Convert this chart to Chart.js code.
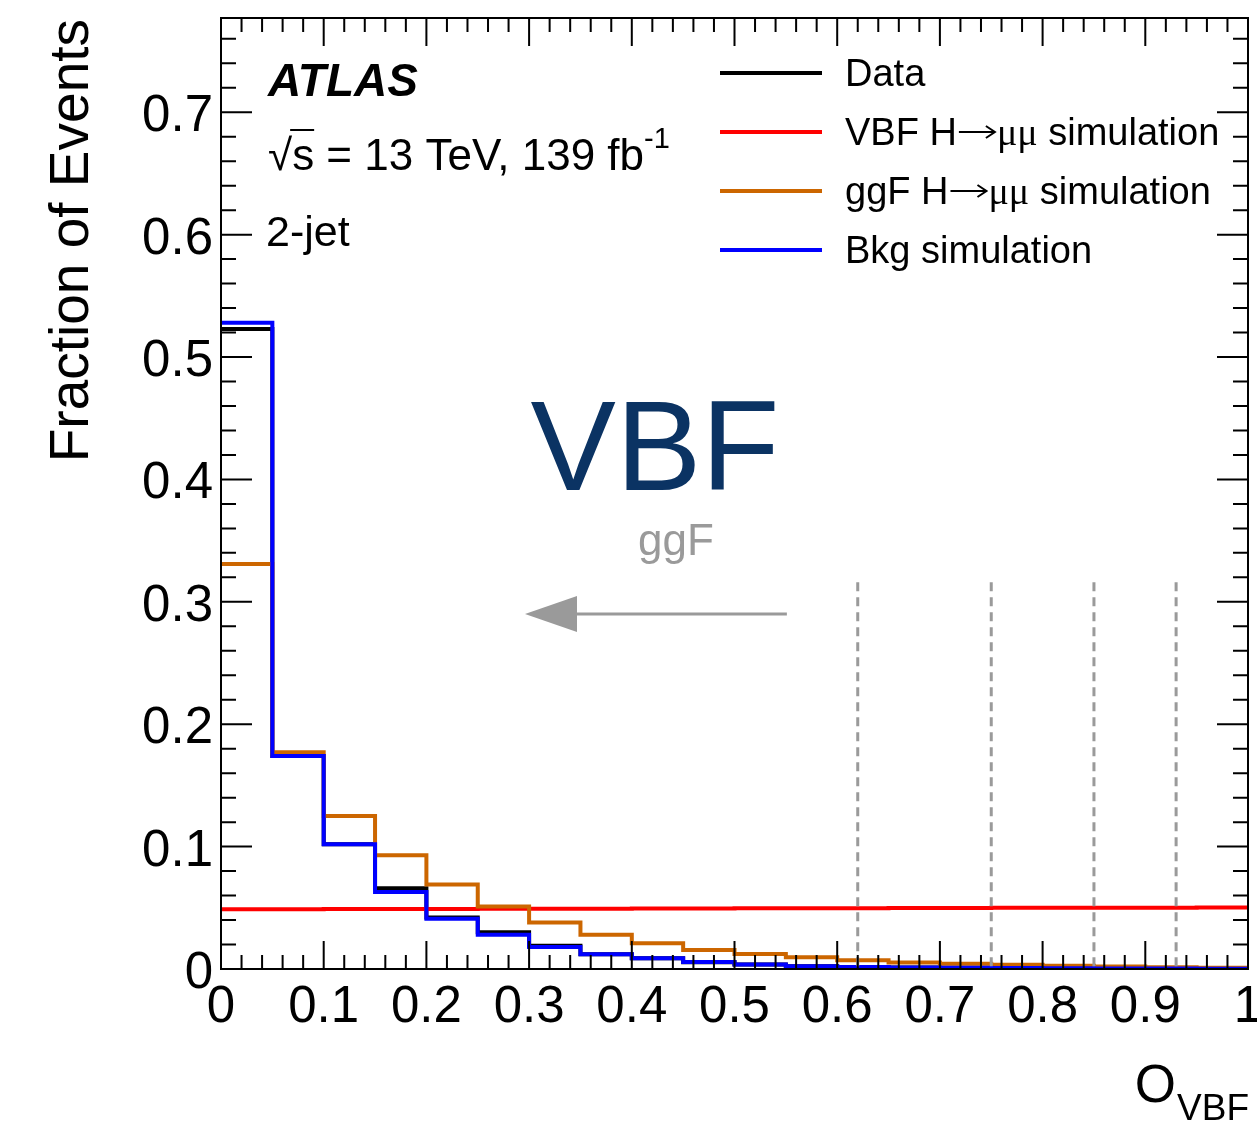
<!DOCTYPE html>
<html>
<head>
<meta charset="utf-8">
<script src="https://cdn.jsdelivr.net/npm/chart.js@4.4.1/dist/chart.umd.min.js"></script>
<style>
  html, body { margin: 0; padding: 0; background: #fff; }
  canvas { display: block; }
</style>
</head>
<body>
<canvas id="ovbf" width="1257" height="1127"></canvas>
<script>
// bin edges of O_VBF (20 bins of 0.05)
const binEdges = [0, 0.05, 0.1, 0.15, 0.2, 0.25, 0.3, 0.35, 0.4, 0.45, 0.5,
  0.55, 0.6, 0.65, 0.7, 0.75, 0.8, 0.85, 0.9, 0.95, 1.0];

// fraction of events per bin
const dataFrac = [0.523, 0.174, 0.102, 0.066, 0.042, 0.030, 0.019, 0.012, 0.0088, 0.0056,
  0.0036, 0.0023, 0.0017, 0.0012, 0.0010, 0.0008, 0.0006, 0.0005, 0.0004, 0.0003];
const vbfSim = [0.0488, 0.0489, 0.0490, 0.0490, 0.0491, 0.0492, 0.0493, 0.0493, 0.0494, 0.0495,
  0.0496, 0.0497, 0.0497, 0.0498, 0.0499, 0.0500, 0.0500, 0.0501, 0.0501, 0.0502];
const ggfSim = [0.331, 0.177, 0.125, 0.093, 0.069, 0.051, 0.038, 0.028, 0.021, 0.0155,
  0.0123, 0.0095, 0.0072, 0.0054, 0.0043, 0.0034, 0.0026, 0.0020, 0.0015, 0.0010];
const bkgSim = [0.528, 0.174, 0.102, 0.063, 0.041, 0.028, 0.018, 0.012, 0.0087, 0.0057,
  0.0037, 0.0023, 0.0017, 0.0012, 0.0010, 0.0008, 0.0006, 0.0005, 0.0004, 0.0003];

// category boundaries (dashed lines)
const categoryCuts = [0.62, 0.75, 0.85, 0.93];

const xTicks = [0, 0.1, 0.2, 0.3, 0.4, 0.5, 0.6, 0.7, 0.8, 0.9, 1];
const xTickLabels = ['0', '0.1', '0.2', '0.3', '0.4', '0.5', '0.6', '0.7', '0.8', '0.9', '1'];
const yTicks = [0, 0.1, 0.2, 0.3, 0.4, 0.5, 0.6, 0.7];
const yTickLabels = ['0', '0.1', '0.2', '0.3', '0.4', '0.5', '0.6', '0.7'];

const FONT = '"Liberation Sans", Arial, Helvetica, sans-serif';
const GREEK = '"Liberation Serif", "Times New Roman", serif';

// histogram -> points at left bin edges, plus closing point at the last edge
function toSteps(vals) {
  const pts = vals.map((v, i) => ({ x: binEdges[i], y: v }));
  pts.push({ x: binEdges[vals.length], y: vals[vals.length - 1] });
  return pts;
}

function text(ctx, s, x, y, font, color, align, baseline) {
  ctx.font = font;
  ctx.fillStyle = color || '#000';
  ctx.textAlign = align || 'left';
  ctx.textBaseline = baseline || 'alphabetic';
  ctx.fillText(s, x, y);
  return ctx.measureText(s).width;
}

// thin ROOT-style "→" drawn as a line with a small head
function arrowGlyph(ctx, x, y, w) {
  ctx.save();
  ctx.strokeStyle = '#000';
  ctx.lineWidth = 2;
  ctx.beginPath();
  ctx.moveTo(x + 2, y); ctx.lineTo(x + w - 3, y);
  ctx.moveTo(x + w - 11, y - 6); ctx.lineTo(x + w - 2, y); ctx.lineTo(x + w - 11, y + 6);
  ctx.stroke();
  ctx.restore();
  return w;
}

function legendText(ctx, parts, x, y) {
  let cx = x;
  parts.forEach(p => {
    if (p[0] === '\u2192') cx += arrowGlyph(ctx, cx, y - 13, 40);
    else cx += text(ctx, p[0], cx, y, p[1], '#000');
  });
}

const atlasDecor = {
  id: 'atlasDecor',
  afterDatasetsDraw(chart) {
    const ctx = chart.ctx;
    const xs = chart.scales.x, ys = chart.scales.y;
    const a = chart.chartArea;
    ctx.save();

    // dashed category lines
    ctx.strokeStyle = '#9a9a9a';
    ctx.lineWidth = 3;
    ctx.setLineDash([9, 6]);
    categoryCuts.forEach(c => {
      const px = xs.getPixelForValue(c);
      ctx.beginPath();
      ctx.moveTo(px, ys.getPixelForValue(0.316));
      ctx.lineTo(px, a.bottom);
      ctx.stroke();
    });
    ctx.setLineDash([]);

    // arrow pointing towards the ggF-like region
    const ay = ys.getPixelForValue(0.29);
    const ax0 = xs.getPixelForValue(0.551), ax1 = xs.getPixelForValue(0.296);
    ctx.strokeStyle = '#9a9a9a';
    ctx.fillStyle = '#9a9a9a';
    ctx.lineWidth = 3;
    ctx.beginPath();
    ctx.moveTo(ax0, ay);
    ctx.lineTo(ax1 + 50, ay);
    ctx.stroke();
    ctx.beginPath();
    ctx.moveTo(ax1, ay);
    ctx.lineTo(ax1 + 52, ay - 18);
    ctx.lineTo(ax1 + 52, ay + 18);
    ctx.closePath();
    ctx.fill();

    text(ctx, 'VBF', 655, 490, '128px ' + FONT, '#0b3363', 'center');
    text(ctx, 'ggF', 676, 555, '44px ' + FONT, '#9a9a9a', 'center');

    // frame
    ctx.strokeStyle = '#000';
    ctx.lineWidth = 2;
    ctx.strokeRect(a.left, a.top, a.right - a.left, a.bottom - a.top);

    // ticks, pointing inwards on all four sides
    for (let i = 0; i <= 50; i++) {
      const px = xs.getPixelForValue(i / 50);
      const len = i % 5 === 0 ? 28 : 14;
      ctx.beginPath();
      ctx.moveTo(px, a.bottom); ctx.lineTo(px, a.bottom - len);
      ctx.moveTo(px, a.top); ctx.lineTo(px, a.top + len);
      ctx.stroke();
    }
    for (let i = 0; i * 0.02 <= ys.max; i++) {
      const py = ys.getPixelForValue(i * 0.02);
      const len = i % 5 === 0 ? 31 : 15;
      ctx.beginPath();
      ctx.moveTo(a.left, py); ctx.lineTo(a.left + len, py);
      ctx.moveTo(a.right, py); ctx.lineTo(a.right - len, py);
      ctx.stroke();
    }

    // tick labels
    yTicks.forEach((v, i) => {
      text(ctx, yTickLabels[i], 213, ys.getPixelForValue(v) + 5, '51px ' + FONT, '#000', 'right', 'middle');
    });
    xTicks.forEach((v, i) => {
      text(ctx, xTickLabels[i], xs.getPixelForValue(v), 1022, '51px ' + FONT, '#000', 'center');
    });

    // axis titles
    ctx.save();
    ctx.translate(88, 19);
    ctx.rotate(-Math.PI / 2);
    text(ctx, 'Fraction of Events', 0, 0, '55px ' + FONT, '#000', 'right');
    ctx.restore();
    ctx.font = '37px ' + FONT;
    const wSub = ctx.measureText('VBF').width;
    text(ctx, 'VBF', 1249 - wSub, 1120, '37px ' + FONT, '#000');
    text(ctx, 'O', 1249 - wSub - 1, 1102, '53px ' + FONT, '#000', 'right');

    // ATLAS label
    text(ctx, 'ATLAS', 268, 96, 'bold italic 46px ' + FONT, '#000');
    const w1 = text(ctx, '\u221A', 268, 170, '44px ' + FONT, '#000');
    const w2 = text(ctx, 's = 13 TeV, 139 fb', 268 + w1, 170, '44px ' + FONT, '#000');
    ctx.lineWidth = 2;
    ctx.beginPath();
    ctx.moveTo(268 + w1 - 2, 130); ctx.lineTo(268 + w1 + 22, 130);
    ctx.stroke();
    text(ctx, '-1', 268 + w1 + w2, 148, '29px ' + FONT, '#000');
    text(ctx, '2-jet', 266, 246, '43px ' + FONT, '#000');

    // legend
    const rows = [
      ['#000000', 73, [['Data', '38px ' + FONT]]],
      ['#ff0000', 132, [['VBF H', '38px ' + FONT], ['\u2192', ''], ['\u03BC\u03BC', '38px ' + GREEK], [' simulation', '38px ' + FONT]]],
      ['#cc6600', 191, [['ggF H', '38px ' + FONT], ['\u2192', ''], ['\u03BC\u03BC', '38px ' + GREEK], [' simulation', '38px ' + FONT]]],
      ['#0000ff', 250, [['Bkg simulation', '38px ' + FONT]]]
    ];
    rows.forEach(r => {
      ctx.strokeStyle = r[0];
      ctx.lineWidth = 4;
      ctx.beginPath();
      ctx.moveTo(720, r[1]); ctx.lineTo(822, r[1]);
      ctx.stroke();
      legendText(ctx, r[2], 845, r[1] + 13);
    });

    ctx.restore();
  }
};

const ctx = document.getElementById('ovbf');
const chart = new Chart(ctx, {
  type: 'line',
  data: {
    datasets: [
      { label: 'Data', data: toSteps(dataFrac), borderColor: '#000000', order: 4 },
      { label: 'VBF H→μμ simulation', data: toSteps(vbfSim), borderColor: '#ff0000', order: 3 },
      { label: 'ggF H→μμ simulation', data: toSteps(ggfSim), borderColor: '#cc6600', order: 2 },
      { label: 'Bkg simulation', data: toSteps(bkgSim), borderColor: '#0000ff', order: 1 }
    ]
  },
  options: {
    responsive: false,
    animation: false,
    devicePixelRatio: 1,
    layout: { padding: { left: 221, right: 9, top: 18, bottom: 158 } },
    elements: {
      line: { stepped: true, borderWidth: 4, fill: false, tension: 0 },
      point: { radius: 0 }
    },
    scales: {
      x: { type: 'linear', min: 0, max: 1, display: false },
      y: { type: 'linear', min: 0, max: 0.777, display: false }
    },
    plugins: {
      legend: { display: false },
      tooltip: { enabled: false }
    }
  },
  plugins: [atlasDecor]
});
</script>
</body>
</html>
